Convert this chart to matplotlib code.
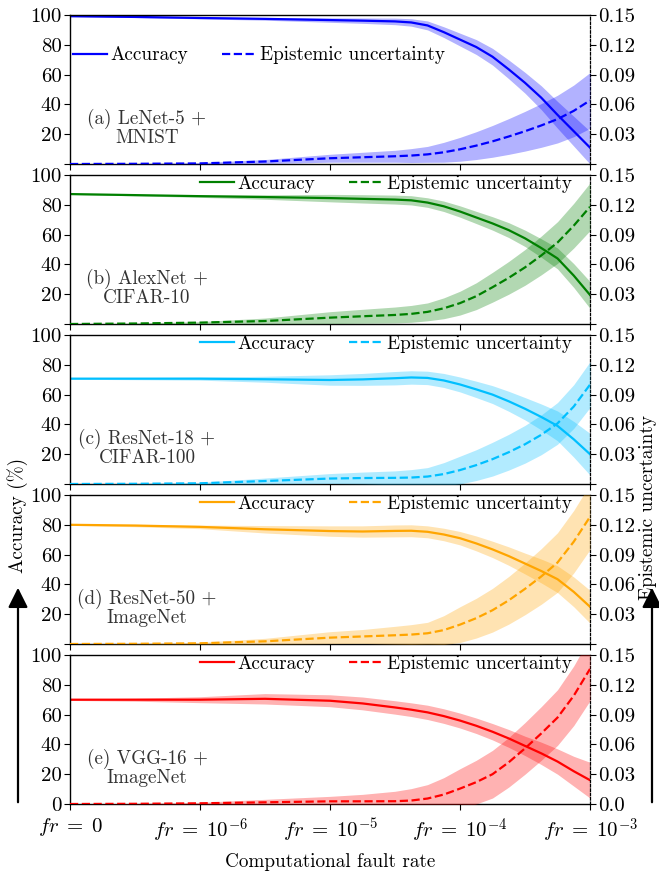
import numpy as np
import matplotlib
matplotlib.use("Agg")
import matplotlib.pyplot as plt
from matplotlib.patches import FancyArrowPatch

plt.rcParams['font.family'] = ['cmr10', 'DejaVu Serif']
plt.rcParams['mathtext.fontset'] = 'cm'
plt.rcParams['axes.unicode_minus'] = False

# positions of the fault-rate categories on the x axis (0 -> fr=0, 1 -> 1e-6, ..., 4 -> 1e-3)
x_pos = [0, 0.5, 1, 1.5, 2, 2.25, 2.5, 2.625, 2.75, 2.875, 3, 3.125, 3.25, 3.375, 3.5, 3.625, 3.75, 3.875, 4]
x_tick_labels = [r'$fr\;=\;0$', r'$fr\;=\;10^{-6}$', r'$fr\;=\;10^{-5}$', r'$fr\;=\;10^{-4}$', r'$fr\;=\;10^{-3}$']

panel_labels = ['(a) LeNet-5 +\nMNIST', '(b) AlexNet +\nCIFAR-10', '(c) ResNet-18 +\nCIFAR-100',
                '(d) ResNet-50 +\nImageNet', '(e) VGG-16 +\nImageNet']
colors = ['#0000ff', '#008000', '#00bfff', '#ffa500', '#ff0000']

acc_a = [99.2, 98.7, 98.0, 97.4, 96.6, 96.2, 95.7, 95.0, 93.0, 88.5, 83.5, 78.5, 72.0, 63.5, 54.5, 44.5, 33.0, 22.0, 11.0]
acc_std_a = [0.3, 0.4, 0.6, 0.9, 1.5, 1.8, 2.2, 2.5, 3.0, 3.6, 4.3, 5.0, 5.6, 6.3, 7.0, 8.0, 9.0, 10.0, 11.0]
unc_a = [0.0, 0.0002, 0.0006, 0.0025, 0.0058, 0.0068, 0.0078, 0.0085, 0.0097, 0.0118, 0.0148, 0.0185, 0.0228,
         0.0277, 0.033, 0.0388, 0.0452, 0.0535, 0.064]
unc_std_a = [0.0, 0.0003, 0.0008, 0.002, 0.004, 0.005, 0.006, 0.007, 0.008, 0.010, 0.012, 0.014, 0.016,
             0.018, 0.020, 0.022, 0.024, 0.026, 0.028]

acc_b = [87.2, 86.5, 85.8, 85.2, 84.5, 84.0, 83.5, 83.0, 81.5, 79.0, 75.5, 71.5, 67.5, 63.0, 57.5, 51.0, 44.0, 32.5, 19.5]
acc_std_b = [0.3, 0.5, 0.8, 1.5, 2.5, 2.8, 3.0, 3.1, 3.2, 3.5, 3.8, 4.1, 4.5, 5.0, 5.5, 6.2, 7.0, 8.0, 9.0]
unc_b = [0.0, 0.0005, 0.0014, 0.003, 0.0064, 0.0078, 0.0091, 0.0102, 0.0122, 0.0158, 0.021, 0.028, 0.037,
         0.0465, 0.057, 0.069, 0.082, 0.099, 0.118]
unc_std_b = [0.0, 0.0005, 0.001, 0.003, 0.006, 0.007, 0.008, 0.0085, 0.009, 0.0105, 0.012, 0.0135, 0.015,
             0.0165, 0.018, 0.0195, 0.021, 0.0225, 0.024]

acc_c = [70.7, 70.7, 70.7, 70.3, 69.8, 70.2, 71.0, 71.5, 71.2, 69.5, 66.8, 63.5, 60.0, 55.5, 50.5, 45.0, 39.0, 30.0, 20.0]
acc_std_c = [0.4, 0.7, 1.0, 2.0, 3.5, 4.0, 4.5, 4.5, 4.5, 4.7, 5.0, 5.5, 6.0, 6.7, 7.5, 8.7, 10.0, 12.0, 14.0]
unc_c = [0.0, 0.0002, 0.0007, 0.003, 0.0055, 0.006, 0.0062, 0.0065, 0.0075, 0.0100, 0.014, 0.019, 0.025,
         0.032, 0.040, 0.0495, 0.061, 0.078, 0.100]
unc_std_c = [0.0, 0.0004, 0.001, 0.003, 0.005, 0.006, 0.007, 0.008, 0.009, 0.0115, 0.014, 0.0155, 0.017,
             0.018, 0.019, 0.020, 0.021, 0.022, 0.023]

acc_d = [80.0, 79.5, 78.6, 77.0, 75.8, 75.5, 75.9, 76.0, 75.3, 73.5, 71.0, 67.5, 63.5, 59.0, 54.0, 49.0, 43.5, 35.0, 25.0]
acc_std_d = [0.4, 0.8, 1.2, 2.5, 3.5, 3.8, 4.0, 4.0, 4.0, 4.2, 4.5, 5.0, 5.5, 6.2, 7.0, 8.0, 9.0, 10.0, 11.0]
unc_d = [0.0, 0.0002, 0.0007, 0.0027, 0.0064, 0.0076, 0.0088, 0.0095, 0.0108, 0.0140, 0.0195, 0.026, 0.034,
         0.044, 0.0555, 0.068, 0.082, 0.103, 0.128]
unc_std_d = [0.0, 0.0004, 0.001, 0.003, 0.006, 0.007, 0.009, 0.010, 0.011, 0.0145, 0.018, 0.020, 0.022,
             0.024, 0.026, 0.028, 0.030, 0.0315, 0.033]

acc_e = [70.0, 70.0, 70.0, 70.6, 69.3, 67.5, 64.8, 63.3, 61.5, 59.0, 56.0, 52.5, 48.5, 44.0, 39.0, 34.0, 28.5, 22.0, 16.0]
acc_std_e = [0.5, 1.0, 2.0, 3.5, 4.0, 4.3, 4.5, 4.6, 4.8, 4.9, 5.0, 5.2, 5.5, 6.0, 6.5, 7.5, 8.5, 10.0, 12.0]
unc_e = [0.0, 0.0002, 0.0007, 0.0017, 0.0027, 0.0027, 0.0028, 0.0035, 0.0055, 0.0095, 0.0155, 0.022, 0.030,
         0.042, 0.056, 0.071, 0.087, 0.109, 0.136]
unc_std_e = [0.0, 0.0004, 0.001, 0.003, 0.005, 0.007, 0.010, 0.012, 0.014, 0.017, 0.020, 0.022, 0.024,
             0.025, 0.026, 0.027, 0.028, 0.030, 0.032]

accs = [acc_a, acc_b, acc_c, acc_d, acc_e]
acc_stds = [acc_std_a, acc_std_b, acc_std_c, acc_std_d, acc_std_e]
uncs = [unc_a, unc_b, unc_c, unc_d, unc_e]
unc_stds = [unc_std_a, unc_std_b, unc_std_c, unc_std_d, unc_std_e]

left_ticks = [0, 20, 40, 60, 80, 100]
right_ticks = [0.0, 0.03, 0.06, 0.09, 0.12, 0.15]
right_tick_labels = ['0.0', '0.03', '0.06', '0.09', '0.12', '0.15']

W, H = 659, 877
fig = plt.figure(figsize=(W / 100, H / 100), dpi=100)

FS = 13.8
TFS = 15
left_px, right_px = 70, 590
panel_h = 149
tops = [15, 175, 335, 495, 655]

legend_kw = dict(ncol=2, frameon=False, fontsize=FS, borderpad=0, borderaxespad=0,
                 handlelength=1.8, handletextpad=0.15, columnspacing=1.8)

x = np.array(x_pos)
for i in range(5):
    top = tops[i]
    ax = fig.add_axes([left_px / W, 1 - (top + panel_h) / H, (right_px - left_px) / W, panel_h / H])
    ax2 = ax.twinx()
    c = colors[i]
    a = np.array(accs[i]); sa = np.array(acc_stds[i])
    u = np.array(uncs[i]); su = np.array(unc_stds[i])
    ax.fill_between(x, a - sa, a + sa, color=c, alpha=0.3, lw=0)
    la, = ax.plot(x, a, color=c, lw=1.6, label='Accuracy', solid_joinstyle='round')
    ax2.fill_between(x, u - su, u + su, color=c, alpha=0.3, lw=0)
    lu, = ax2.plot(x, u, color=c, lw=1.6, ls='--', label='Epistemic uncertainty')
    ax.set_xlim(0, 4)
    ax.set_ylim(0, 100)
    ax2.set_ylim(0, 0.15)
    ax.set_xticks(range(5))
    ax.set_yticks(left_ticks)
    ax2.set_yticks(right_ticks)
    if i == 4:
        ax.set_yticklabels([str(t) for t in left_ticks])
        ax2.set_yticklabels(right_tick_labels)
        ax.set_xticklabels(x_tick_labels, fontsize=TFS)
    else:
        ax.set_yticklabels([''] + [str(t) for t in left_ticks[1:]])
        ax2.set_yticklabels([''] + right_tick_labels[1:])
        ax.set_xticklabels([])
    ax.tick_params(axis='both', direction='out', labelsize=TFS, length=4, width=0.8, pad=2)
    ax.tick_params(axis='x', pad=5)
    ax2.tick_params(axis='y', direction='out', labelsize=TFS, length=4, width=0.8, pad=2)
    for sp in ax2.spines.values():
        sp.set_visible(False)
    ax.spines['right'].set_linestyle((0, (2, 1.5)))
    ax.spines['right'].set_linewidth(0.9)
    for s in ['left', 'top', 'bottom']:
        ax.spines[s].set_linewidth(1.0)
    ax.text(0.148, 0.24, panel_labels[i], transform=ax.transAxes, ha='center', va='center',
            fontsize=FS, color='#333333', multialignment='center', linespacing=1.0)
    if i == 0:
        ax2.legend([la, lu], ['Accuracy', 'Epistemic uncertainty'], loc='center left',
                   bbox_to_anchor=(0.005, 0.73), **legend_kw)
    else:
        ax2.legend([la, lu], ['Accuracy', 'Epistemic uncertainty'], loc='center right',
                   bbox_to_anchor=(0.965, 0.94), **legend_kw)

fig.text((left_px + right_px) / 2 / W, 1 - 862 / H, 'Computational fault rate',
         ha='center', va='center', fontsize=FS)
fig.text(18 / W, 1 - 515 / H, 'Accuracy (%)', rotation=90, ha='center', va='center', fontsize=FS)
fig.text(648 / W, 1 - 508 / H, 'Epistemic uncertainty', rotation=90, ha='center', va='center', fontsize=FS)

for xp in [18, 652]:
    arr = FancyArrowPatch((xp / W, 1 - 805 / H), (xp / W, 1 - 585 / H), transform=fig.transFigure,
                          arrowstyle='-|>,head_length=8,head_width=4', color='black', lw=1.6,
                          mutation_scale=1.5)
    fig.patches.append(arr)

fig.savefig('out.png', dpi=100)
